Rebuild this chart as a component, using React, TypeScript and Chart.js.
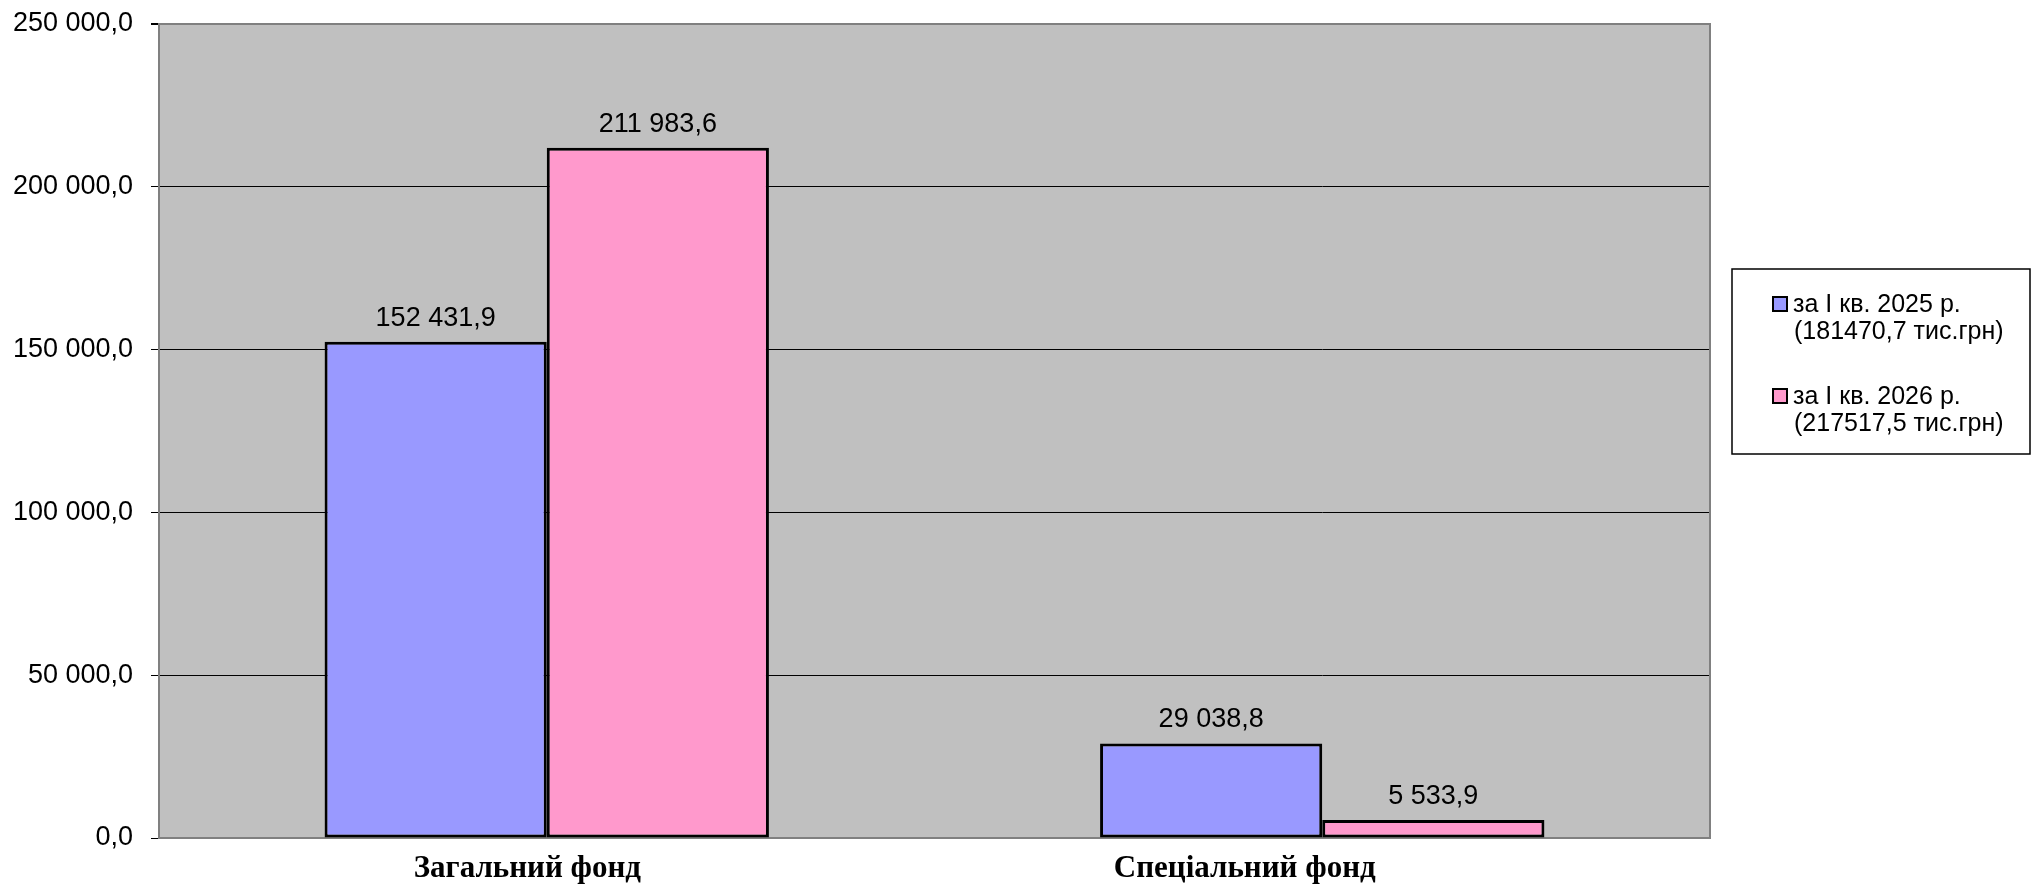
import { useEffect, useRef } from "react";
import { Chart, registerables } from "chart.js";

Chart.register(...registerables);

const categories = ["Загальний фонд", "Спеціальний фонд"];
const values2025 = [152431.9, 29038.8];
const values2026 = [211983.6, 5533.9];
const legend2025 = ["за І кв. 2025 р.", "(181470,7 тис.грн)"];
const legend2026 = ["за І кв. 2026 р.", "(217517,5 тис.грн)"];
const yMin = 0;
const yMax = 250000;
const yStep = 50000;

// trailing blanks that the original category labels carry (shift their visual centre)
const labelTrail = [5, 20];

function fmt(v: number): string {
  const s = v.toFixed(1);
  const [i, d] = s.split(".");
  return i.replace(/\B(?=(\d{3})+(?!\d))/g, " ") + "," + d;
}

const SANS = "'Liberation Sans', Arial, sans-serif";
const SERIF = "'Liberation Serif', 'Times New Roman', serif";

const plotBgPlugin = {
  id: "plotBg",
  beforeDraw(chart: any) {
    const { ctx, chartArea } = chart;
    const { left, top, right, bottom } = chartArea;
    ctx.save();
    ctx.fillStyle = "#C0C0C0";
    ctx.fillRect(left, top, right - left, bottom - top);
    ctx.restore();
  },
  beforeDatasetsDraw(chart: any) {
    const { ctx, chartArea } = chart;
    const { top, right, bottom } = chartArea;
    ctx.save();
    ctx.strokeStyle = "#808080";
    ctx.lineWidth = 2;
    ctx.beginPath();
    ctx.moveTo(right, top - 1);
    ctx.lineTo(right, bottom);
    ctx.stroke();
    ctx.restore();
  },
};

const valueLabelPlugin = {
  id: "valueLabels",
  afterDatasetsDraw(chart: any) {
    const { ctx } = chart;
    ctx.save();
    ctx.font = `27px ${SANS}`;
    ctx.fillStyle = "#000";
    ctx.textAlign = "center";
    ctx.textBaseline = "alphabetic";
    chart.data.datasets.forEach((ds: any, di: number) => {
      const meta = chart.getDatasetMeta(di);
      meta.data.forEach((bar: any, i: number) => {
        ctx.fillText(fmt(ds.data[i]), bar.x, bar.y - 16);
      });
    });
    ctx.restore();
  },
};

const legendPlugin = {
  id: "boxLegend",
  afterDraw(chart: any) {
    const { ctx } = chart;
    const boxL = 1732, boxT = 269, boxR = 2030, boxB = 454;
    ctx.save();
    ctx.fillStyle = "#fff";
    ctx.fillRect(boxL, boxT, boxR - boxL, boxB - boxT);
    ctx.strokeStyle = "#000";
    ctx.lineWidth = 1.5;
    ctx.strokeRect(boxL, boxT, boxR - boxL, boxB - boxT);
    ctx.font = `25px ${SANS}`;
    ctx.textAlign = "left";
    ctx.textBaseline = "middle";
    const items = chart.data.datasets;
    items.forEach((ds: any, i: number) => {
      const y0 = 305 + i * 92;
      ctx.fillStyle = ds.backgroundColor;
      ctx.fillRect(1773, y0 - 8, 14, 14);
      ctx.strokeStyle = "#000";
      ctx.lineWidth = 2;
      ctx.strokeRect(1773, y0 - 8, 14, 14);
      ctx.fillStyle = "#000";
      const lines: string[] = ds.legendLines;
      lines.forEach((ln, k) => {
        ctx.fillText(ln, 1793 + (k > 0 ? 1 : 0), y0 + k * 27);
      });
    });
    ctx.restore();
  },
};

export default function App() {
  const ref = useRef<HTMLCanvasElement | null>(null);

  useEffect(() => {
    document.body.style.margin = "0";
    const canvas = ref.current;
    if (!canvas) return;
    const chart = new Chart(canvas, {
      type: "bar",
      data: {
        labels: categories,
        datasets: [
          {
            label: legend2025.join(" "),
            legendLines: legend2025,
            data: values2025,
            backgroundColor: "#9999FF",
            borderColor: "#000000",
            borderWidth: 3,
            borderSkipped: false,
            categoryPercentage: 0.573,
            barPercentage: 1.0,
          } as any,
          {
            label: legend2026.join(" "),
            legendLines: legend2026,
            data: values2026,
            backgroundColor: "#FF99CC",
            borderColor: "#000000",
            borderWidth: 3,
            borderSkipped: false,
            categoryPercentage: 0.573,
            barPercentage: 1.0,
          } as any,
        ],
      },
      options: {
        responsive: false,
        animation: false,
        layout: { padding: { left: 0, right: 321, top: 24, bottom: 0 } },
        plugins: {
          legend: { display: false },
          tooltip: { enabled: false },
        },
        scales: {
          x: {
            grid: { display: false, drawTicks: false },
            border: { display: true, color: "#808080", width: 2 },
            ticks: {
              padding: 12,
              color: "#000",
              font: { family: SERIF, size: 31, weight: "bold" },
              maxRotation: 0,
              autoSkip: false,
              callback: (_v: any, i: number) => categories[i] + " ".repeat(labelTrail[i]),
            },
            afterFit: (s: any) => {
              s.height = 47;
              s.paddingLeft = 0;
              s.paddingRight = 0;
            },
          },
          y: {
            min: yMin,
            max: yMax,
            grid: {
              color: (c: any) =>
                c.tick && c.tick.value === yMax ? "#808080" : c.tick && c.tick.value === 0 ? "rgba(0,0,0,0)" : "#000",
              lineWidth: (c: any) => (c.tick && c.tick.value === yMax ? 2 : 1),
              tickColor: "#000",
              tickLength: 8,
              drawTicks: true,
            },
            border: { display: true, color: "#808080", width: 2 },
            ticks: {
              stepSize: yStep,
              padding: 18,
              color: "#000",
              font: { family: SANS, size: 27 },
              callback: (v: any) => fmt(Number(v)),
            },
            afterFit: (s: any) => {
              s.width = 159;
              s.paddingTop = 0;
              s.paddingBottom = 0;
            },
          },
        },
      },
      plugins: [plotBgPlugin, valueLabelPlugin, legendPlugin],
    });
    return () => chart.destroy();
  }, []);

  return (
    <div style={{ position: "absolute", left: 0, top: 0, width: 2031, height: 885, background: "#fff" }}>
      <canvas ref={ref} width={2031} height={885} style={{ display: "block" }} />
    </div>
  );
}
